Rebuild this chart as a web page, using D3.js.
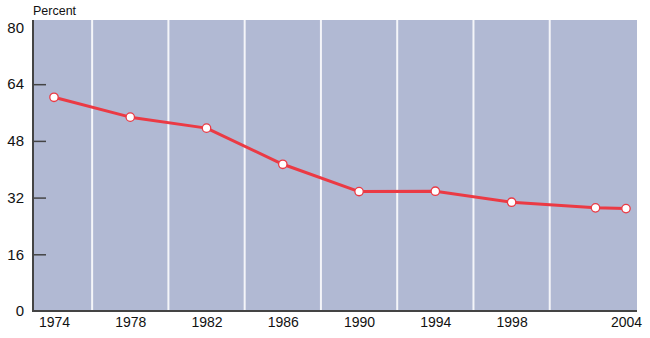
<!DOCTYPE html>
<html>
<head>
<meta charset="utf-8">
<script src="https://cdn.jsdelivr.net/npm/d3@7"></script>
<style>
  html, body { margin: 0; padding: 0; background: #fff; }
  svg { display: block; font-family: "Liberation Sans", Arial, sans-serif; }
</style>
</head>
<body>
<div id="chart"></div>
<script>
// values
const years = [1974, 1978, 1982, 1986, 1990, 1994, 1998, 2002.4, 2004];
const percent = [60.3, 54.7, 51.6, 41.4, 33.7, 33.8, 30.7, 29.1, 28.9];
const xTickYears = [1974, 1978, 1982, 1986, 1990, 1994, 1998, 2004];
const gridYears = [1976, 1980, 1984, 1988, 1992, 1996, 2000];
const yTicks = [0, 16, 32, 48, 64, 80];

const width = 650, height = 338;
const plot = { left: 33, right: 637, top: 20, bottom: 311 };

const svg = d3.select("#chart")
  .append("svg")
  .attr("width", width)
  .attr("height", height);

const x = d3.scaleLinear()
  .domain([1974, 2004])
  .range([54, 626]);

const y = d3.scaleLinear()
  .domain([0, 80])
  .range([plot.bottom, plot.bottom - 80 * 3.544]);

// background panel
svg.append("rect")
  .attr("x", plot.left)
  .attr("y", plot.top)
  .attr("width", plot.right - plot.left)
  .attr("height", plot.bottom - plot.top)
  .attr("fill", "#b1b9d3");

// white separators between label years
svg.append("g")
  .selectAll("line")
  .data(gridYears)
  .enter()
  .append("line")
  .attr("x1", d => x(d))
  .attr("x2", d => x(d))
  .attr("y1", plot.top)
  .attr("y2", plot.bottom)
  .attr("stroke", "#f4f5f9")
  .attr("stroke-width", 2);

// y axis: labels on left, short ticks drawn inward
const yAxis = svg.append("g")
  .attr("transform", `translate(${plot.left},0)`)
  .call(d3.axisLeft(y).tickValues(yTicks).tickSizeInner(-13).tickSizeOuter(0).tickPadding(9));
yAxis.select(".domain").remove();
yAxis.selectAll(".tick line")
  .attr("stroke", "#444")
  .attr("stroke-width", 1.5)
  .filter(d => d === 0 || d === 80)
  .remove();
yAxis.selectAll(".tick text")
  .attr("fill", "#111")
  .style("font-size", "15px");

// x axis labels
const xAxis = svg.append("g")
  .attr("transform", `translate(0,${plot.bottom})`)
  .call(d3.axisBottom(x).tickValues(xTickYears).tickFormat(d3.format("d")).tickSize(0).tickPadding(6));
xAxis.select(".domain").remove();
xAxis.selectAll(".tick text")
  .attr("fill", "#111")
  .style("font-size", "14px");

// axis lines
svg.append("line")
  .attr("x1", plot.left).attr("x2", plot.left)
  .attr("y1", plot.top).attr("y2", plot.bottom + 1)
  .attr("stroke", "#444").attr("stroke-width", 2);
svg.append("line")
  .attr("x1", plot.left).attr("x2", plot.right)
  .attr("y1", plot.bottom).attr("y2", plot.bottom)
  .attr("stroke", "#444").attr("stroke-width", 2);

svg.append("text")
  .attr("x", plot.left)
  .attr("y", 15)
  .attr("fill", "#111")
  .style("font-size", "12.5px")
  .text("Percent");

const data = years.map((yr, i) => ({ year: yr, value: percent[i] }));

const line = d3.line()
  .x(d => x(d.year))
  .y(d => y(d.value));

svg.append("path")
  .datum(data)
  .attr("d", line)
  .attr("fill", "none")
  .attr("stroke", "#eb3a44")
  .attr("stroke-width", 3)
  .attr("stroke-linejoin", "round");

svg.append("g")
  .selectAll("circle")
  .data(data)
  .enter()
  .append("circle")
  .attr("cx", d => x(d.year))
  .attr("cy", d => y(d.value))
  .attr("r", 4.2)
  .attr("fill", "#fff")
  .attr("stroke", "#eb3a44")
  .attr("stroke-width", 1.3);
</script>
</body>
</html>
